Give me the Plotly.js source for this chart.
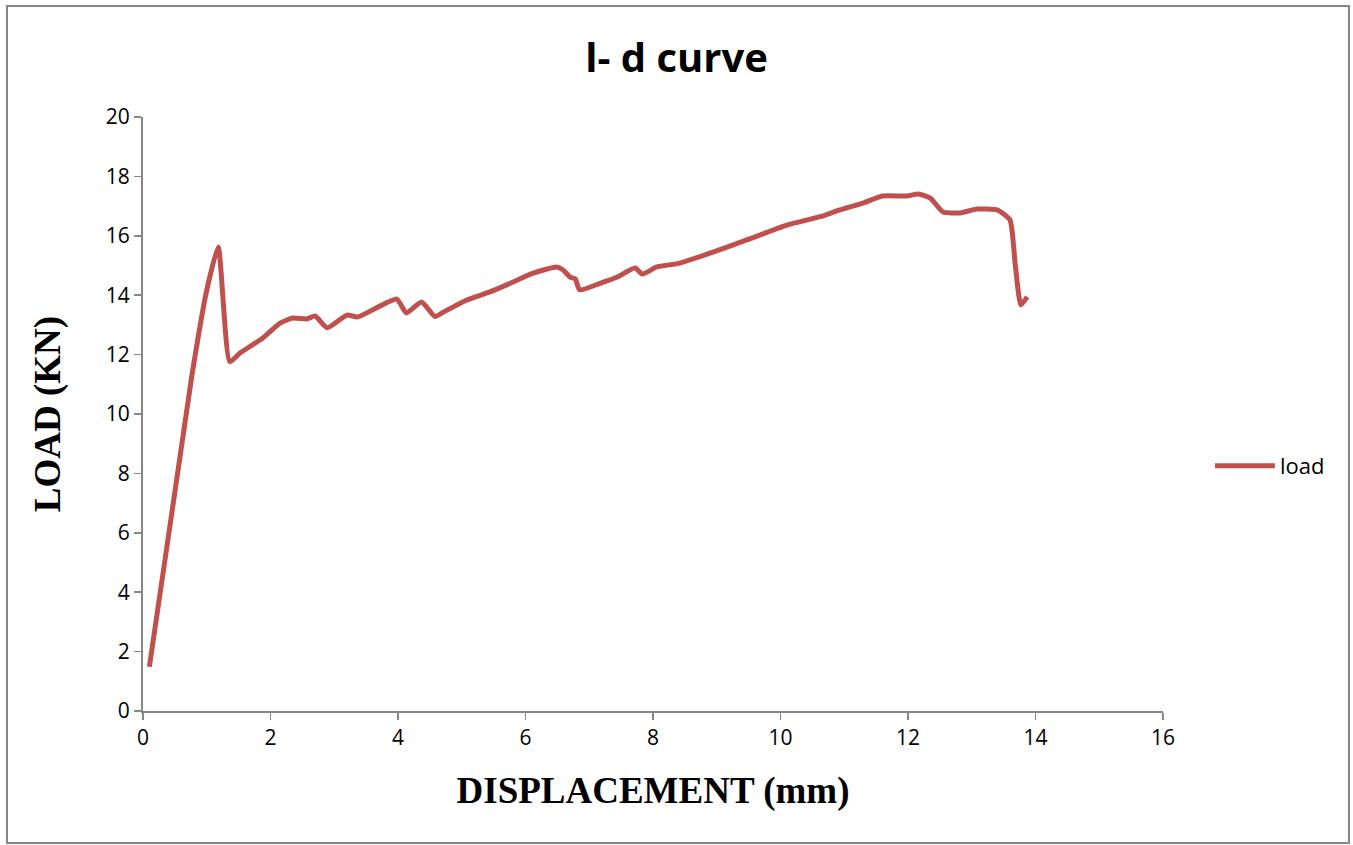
<!DOCTYPE html>
<html>
<head>
<meta charset="utf-8">
<script src="https://cdn.plot.ly/plotly-3.0.1.min.js"></script>
<style>html,body{margin:0;padding:0;background:#fff;}#chart{width:1353px;height:845px;}</style>
</head>
<body>
<div id="chart"></div>
<script>
const displacement = [0.1, 0.76, 1.0, 1.18, 1.36, 1.52, 1.88, 2.15, 2.35, 2.57, 2.70, 2.89, 3.2, 3.37, 3.98, 4.13, 4.37, 4.58, 4.71, 5.08, 5.44, 5.76, 6.12, 6.49, 6.59, 6.7, 6.78, 6.85, 7.17, 7.44, 7.72, 7.83, 8.06, 8.42, 8.94, 9.47, 10.1, 10.67, 10.93, 11.29, 11.6, 11.98, 12.16, 12.35, 12.55, 12.82, 13.08, 13.4, 13.6, 13.68, 13.77, 13.87];
const load = [1.49, 11.2, 14.17, 15.62, 11.76, 12.05, 12.56, 13.06, 13.23, 13.2, 13.3, 12.9, 13.33, 13.27, 13.87, 13.4, 13.77, 13.28, 13.43, 13.84, 14.11, 14.4, 14.74, 14.95, 14.85, 14.61, 14.55, 14.18, 14.4, 14.61, 14.92, 14.71, 14.95, 15.08, 15.45, 15.86, 16.36, 16.67, 16.87, 17.1, 17.34, 17.34, 17.41, 17.27, 16.8, 16.77, 16.9, 16.87, 16.53, 15.08, 13.67, 13.94];
const xTicks = [0, 2, 4, 6, 8, 10, 12, 14, 16];
const yTicks = [0, 2, 4, 6, 8, 10, 12, 14, 16, 18, 20];

const trace = {
  x: displacement, y: load, type: 'scatter', mode: 'lines', name: 'load',
  line: {color: '#C0504D', width: 5, shape: 'spline', smoothing: 0.5}
};

function axis(extra) {
  return Object.assign({
    showgrid: false, zeroline: false, showline: true, linecolor: '#868686', linewidth: 2,
    ticks: 'outside', ticklen: 7, tickwidth: 1.5, tickcolor: '#868686',
    tickfont: {family: 'Open Sans', size: 21, color: '#000000'}
  }, extra);
}

const layout = {
  width: 1353, height: 845,
  margin: {l: 143, r: 190, t: 117, b: 134},
  paper_bgcolor: '#fff', plot_bgcolor: '#fff',
  font: {family: 'Open Sans', size: 21, color: '#000'},
  title: {text: '<b>l- d curve</b>', x: 0.5, xref: 'container', xanchor: 'center', y: 1 - 58/845, yanchor: 'middle',
          font: {family: 'Open Sans', size: 40, color: '#000'}},
  xaxis: axis({
    range: [0, 16], tickvals: xTicks, ticktext: xTicks.map(String),
    title: {text: '<b>DISPLACEMENT (mm)</b>', standoff: 27,
            font: {family: 'Liberation Serif', size: 37, color: '#000'}}
  }),
  yaxis: axis({
    range: [0, 20], tickvals: yTicks, ticktext: yTicks.map(String),
    title: {text: '<b>LOAD (KN)</b>', standoff: 34,
            font: {family: 'Liberation Serif', size: 37, color: '#000'}}
  }),
  showlegend: true,
  legend: {x: 1.046, xanchor: 'left', y: (711-466)/594, yanchor: 'middle',
           font: {family: 'Open Sans', size: 22, color: '#000'},
           itemwidth: 60, bgcolor: 'rgba(0,0,0,0)'},
  shapes: [{
    type: 'rect', xref: 'paper', yref: 'paper',
    x0: (7-143)/1020, x1: (1349-143)/1020, y0: (711-843)/594, y1: (711-6)/594,
    line: {color: '#868686', width: 2}, fillcolor: 'rgba(0,0,0,0)', layer: 'below'
  }]
};

Plotly.newPlot('chart', [trace], layout, {displayModeBar: false, staticPlot: true});
</script>
</body>
</html>
